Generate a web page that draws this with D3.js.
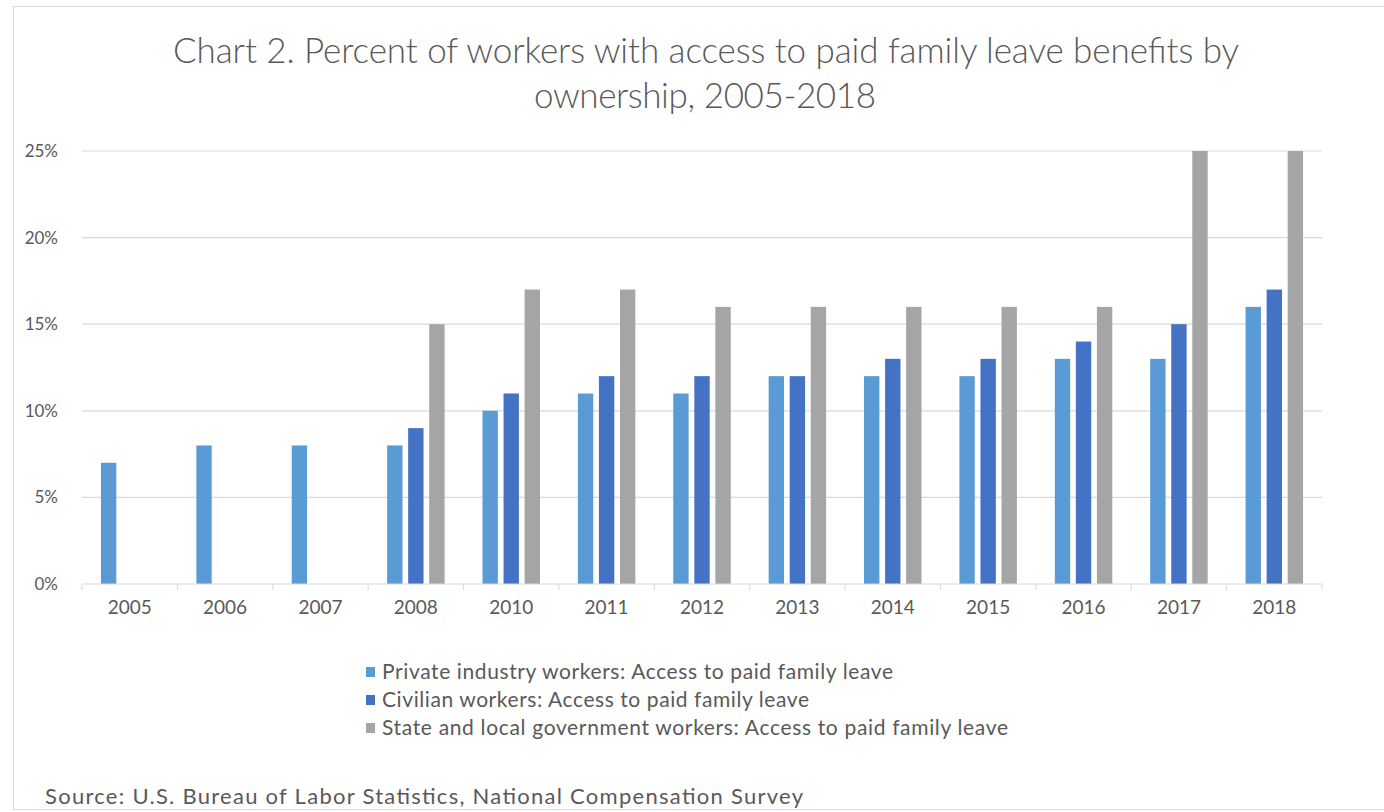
<!DOCTYPE html>
<html>
<head>
<meta charset="utf-8">
<script src="https://cdn.jsdelivr.net/npm/d3@7"></script>
<style>
  body { margin: 0; background: #fff; }
  text { font-family: Lato, "Open Sans", sans-serif; fill: #595959; }
</style>
</head>
<body>
<div id="chart"></div>
<script>
// data
const years = ["2005", "2006", "2007", "2008", "2010", "2011", "2012", "2013", "2014", "2015", "2016", "2017", "2018"];
const privateWorkers = [7, 8, 8, 8, 10, 11, 11, 12, 12, 12, 13, 13, 16];
const civilianWorkers = [null, null, null, 9, 11, 12, 12, 12, 13, 13, 14, 15, 17];
const stateLocalWorkers = [null, null, null, 15, 17, 17, 16, 16, 16, 16, 16, 25, 25];
const yTicks = [0, 5, 10, 15, 20, 25];
const seriesNames = [
    "Private industry workers: Access to paid family leave",
    "Civilian workers: Access to paid family leave",
    "State and local government workers: Access to paid family leave"
];
const seriesColors = ["#5b9bd5", "#4472c4", "#a5a5a5"];

const W = 1384, H = 812;
const margin = { top: 151, right: 62, bottom: 228, left: 82 },
    width = W - margin.left - margin.right,
    height = H - margin.top - margin.bottom;

const svg = d3.select("#chart")
    .append("svg")
    .attr("width", W)
    .attr("height", H);

// outer chart frame
svg.append("rect")
    .attr("x", 13.5).attr("y", 6.5)
    .attr("width", W).attr("height", H - 9)
    .attr("fill", "none")
    .attr("stroke", "#d9d9d9");

// title, two lines
svg.append("text")
    .attr("x", 706).attr("y", 63)
    .attr("text-anchor", "middle")
    .attr("textLength", 1066)
    .attr("lengthAdjust", "spacing")
    .style("font-size", "35px")
    .style("font-weight", 300)
    .text("Chart 2. Percent of workers with access to paid family leave benefits by");
svg.append("text")
    .attr("x", 705).attr("y", 108)
    .attr("text-anchor", "middle")
    .attr("textLength", 342)
    .attr("lengthAdjust", "spacing")
    .style("font-size", "35px")
    .style("font-weight", 300)
    .text("ownership, 2005-2018");

const g = svg.append("g")
    .attr("transform", `translate(${margin.left},${margin.top})`);

const x = d3.scaleBand()
    .domain(years)
    .range([0, width]);

const x1 = d3.scaleBand()
    .domain([0, 1, 2])
    .range([0, x.bandwidth()])
    .paddingInner(0.27)
    .paddingOuter(0.9);

const y = d3.scaleLinear()
    .domain([0, 25])
    .range([height, 0]);

// gridlines
g.append("g")
    .selectAll("line")
    .data(yTicks.slice(1))
    .join("line")
    .attr("x1", 0).attr("x2", width)
    .attr("y1", d => y(d)).attr("y2", d => y(d))
    .attr("stroke", "#d9d9d9")
    .attr("stroke-width", 1.2);

// y labels
g.append("g")
    .selectAll("text")
    .data(yTicks)
    .join("text")
    .attr("x", -24)
    .attr("y", d => y(d))
    .attr("dy", "0.35em")
    .attr("text-anchor", "end")
    .style("font-size", "17px")
    .text(d => d + "%");

// bars
const series = [privateWorkers, civilianWorkers, stateLocalWorkers];
series.forEach((vals, si) => {
    g.append("g")
        .attr("fill", seriesColors[si])
        .selectAll("rect")
        .data(years.map((yr, i) => ({ yr: yr, v: vals[i] })).filter(d => d.v != null))
        .join("rect")
        .attr("x", d => x(d.yr) + x1(si))
        .attr("width", x1.bandwidth())
        .attr("y", d => y(d.v))
        .attr("height", d => height - y(d.v));
});

// x axis
const xAxis = g.append("g")
    .attr("transform", `translate(0,${height})`);
xAxis.append("line")
    .attr("x1", 0).attr("x2", width)
    .attr("stroke", "#d9d9d9").attr("stroke-width", 1.2);
xAxis.selectAll("line.tick")
    .data(d3.range(years.length + 1))
    .join("line")
    .attr("class", "tick")
    .attr("x1", i => i * x.step()).attr("x2", i => i * x.step())
    .attr("y1", 0).attr("y2", 6)
    .attr("stroke", "#d9d9d9");
xAxis.selectAll("text")
    .data(years)
    .join("text")
    .attr("x", d => x(d) + x.bandwidth() / 2)
    .attr("y", 30)
    .attr("text-anchor", "middle")
    .style("font-size", "19px")
    .text(d => d);

// legend
const legendWidths = [511, 427, 626];
const legend = svg.append("g")
    .attr("transform", "translate(366,668)");
const row = legend.selectAll("g")
    .data(seriesNames)
    .join("g")
    .attr("transform", (d, i) => `translate(0,${i * 28})`);
row.append("rect")
    .attr("width", 9).attr("height", 10)
    .attr("y", -1)
    .attr("fill", (d, i) => seriesColors[i]);
row.append("text")
    .attr("x", 16).attr("y", 4)
    .attr("dy", "0.35em")
    .attr("textLength", (d, i) => legendWidths[i])
    .attr("lengthAdjust", "spacing")
    .style("font-size", "21px")
    .text(d => d);

// source note
svg.append("text")
    .attr("x", 45).attr("y", 804)
    .attr("textLength", 758)
    .attr("lengthAdjust", "spacing")
    .style("font-size", "22px")
    .text("Source: U.S. Bureau of Labor Statistics, National Compensation Survey");
</script>
</body>
</html>
